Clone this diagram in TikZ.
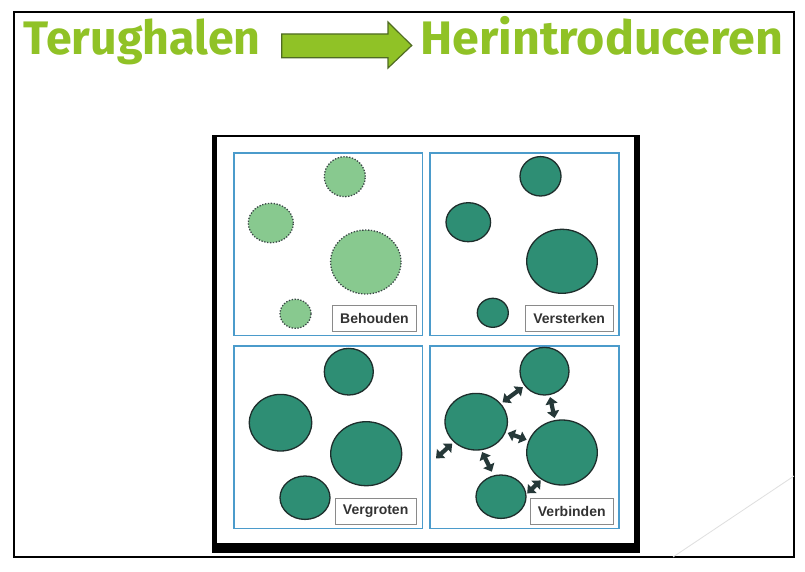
\documentclass[tikz,border=0pt]{standalone}
\usepackage{fontspec}
\setmainfont{Liberation Sans}
\newfontfamily\titlefont{Fira Sans}
\usepackage{xcolor}
\usepackage{graphicx}
\usepackage{tikz}
\usetikzlibrary{shapes.geometric,arrows.meta}

\definecolor{titlegreen}{HTML}{90C226}
\definecolor{arrowrim}{HTML}{4F6B22}
\definecolor{panelblue}{HTML}{4B9BCB}
\definecolor{lightgreen}{HTML}{88C98F}
\definecolor{darkgreen}{HTML}{2E8E74}
\definecolor{rimdark}{HTML}{1E2E2C}
\definecolor{dotgray}{HTML}{3A4646}
\definecolor{arrowdark}{HTML}{253838}
\definecolor{taggray}{HTML}{8A8A8A}
\definecolor{tagtext}{HTML}{333333}

\tikzset{
    panel/.style={draw=panelblue, line width=1.5pt},
    light/.style={ellipse, draw=dotgray, fill=lightgreen, line width=1.3pt,
        dash pattern=on 1.3pt off 1.6pt, inner sep=0pt},
    dark/.style={ellipse, draw=rimdark, fill=darkgreen, line width=1.3pt, inner sep=0pt},
    tag/.style={draw=taggray, fill=white, line width=0.8pt, inner xsep=8pt,
        minimum height=26pt, anchor=east, text=tagtext,
        font=\bfseries\fontsize{14}{14}\selectfont},
    dbl/.style={{Triangle[length=7pt,width=12pt]}-{Triangle[length=7pt,width=12pt]},
        line width=4.2pt, draw=arrowdark, shorten <=2pt, shorten >=2pt},
    title/.style={anchor=base west, inner sep=0pt, text=titlegreen,
        font=\titlefont\bfseries\fontsize{47}{47}\selectfont}
}

\begin{document}
\begin{tikzpicture}[x=1pt, y=-1pt]
    \useasboundingbox [fill=white] (0,0) rectangle (805,572);
    \draw [line width=1.2pt] (14,12) rectangle (794,557);
    \draw [gray!25, line width=0.8pt] (673,557) -- (794,476);

    % title
    \node [title] (terug) at (23.5,55) {\resizebox{237pt}{\height}{Terughalen}};
    \node [title] (herin) at (420,55) {\resizebox{363pt}{\height}{Herintroduceren}};
    \draw [draw=arrowrim, fill=titlegreen, line width=1.2pt]
    (281.7,34) -- (388,34) -- (388,22) -- (411.7,45.5)
    -- (388,68) -- (388,57.7) -- (281.7,57.7) -- cycle;

    % scanned frame
    \fill [black] (212,135) rectangle (640,553);
    \fill [white] (217.3,137.5) rectangle (633.5,543);

    \draw [panel] (234,153) rectangle (422.7,335.7);
    \draw [panel] (430,153) rectangle (619,335.7);
    \draw [panel] (234,346) rectangle (422.7,528.7);
    \draw [panel] (430,346) rectangle (619,528.7);

    % behouden
    \node [light, minimum width=41pt, minimum height=40pt] (bt) at (344.8,176.7) {};
    \node [light, minimum width=45pt, minimum height=39.4pt] (bl) at (270.8,223) {};
    \node [light, minimum width=70.4pt, minimum height=64pt] (bb) at (365.8,262) {};
    \node [light, minimum width=31pt, minimum height=29pt] (bs) at (295.5,313.8) {};
    \node [tag] (btag) at (417,318) {Behouden};

    % versterken
    \node [dark, minimum width=41pt, minimum height=39.4pt] (st) at (540.5,176.3) {};
    \node [dark, minimum width=44.6pt, minimum height=39pt] (sl) at (468.3,222.2) {};
    \node [dark, minimum width=70.6pt, minimum height=64pt] (sb) at (562,261.3) {};
    \node [dark, minimum width=31pt, minimum height=29pt] (ss) at (492.8,312.8) {};
    \node [tag] (stag) at (613.3,318.5) {Versterken};

    % vergroten
    \node [dark, minimum width=49pt, minimum height=46.6pt] (gt) at (348.8,371.7) {};
    \node [dark, minimum width=62.4pt, minimum height=56.6pt] (gl) at (280.5,422.7) {};
    \node [dark, minimum width=71pt, minimum height=64pt] (gb) at (366.2,453.7) {};
    \node [dark, minimum width=50pt, minimum height=43.4pt] (gs) at (305,497.7) {};
    \node [tag] (gtag) at (416.7,511.2) {Vergroten};

    % verbinden
    \node [dark, minimum width=49pt, minimum height=47.6pt] (vt) at (544.5,371.2) {};
    \node [dark, minimum width=62.4pt, minimum height=56.6pt] (vl) at (476.2,421.7) {};
    \node [dark, minimum width=70.6pt, minimum height=65pt] (vb) at (562,452.5) {};
    \node [dark, minimum width=50pt, minimum height=43.4pt] (vs) at (501,496.7) {};
    \node [tag] (vtag) at (614,511.2) {Verbinden};
    \coordinate (vout) at (436,458.3);

    \draw [dbl] (vl) -- (vt);
    \draw [dbl] (vt) -- (vb);
    \draw [dbl] (vl) -- (vb);
    \draw [dbl, shorten >=0pt] (vl) -- (vout);
    \draw [dbl, shorten >=4pt] (vl.280) -- (vs.109);
    \draw [dbl, shorten <=1pt, shorten >=1pt] (vs.6) -- (vb.233);
\end{tikzpicture}
\end{document}
